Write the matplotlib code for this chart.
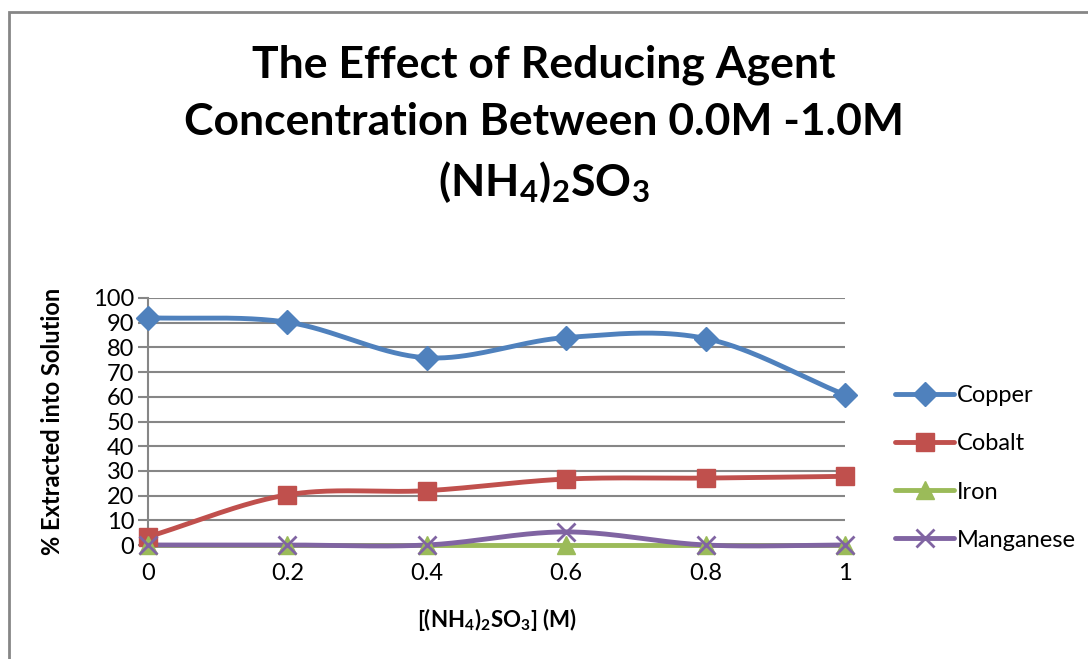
import numpy as np
import matplotlib.pyplot as plt
from matplotlib.patches import Rectangle

# Data
conc = [0, 0.2, 0.4, 0.6, 0.8, 1.0]
conc_labels = ['0', '0.2', '0.4', '0.6', '0.8', '1']
copper = [92.0, 90.2, 75.8, 84.0, 83.6, 60.8]
cobalt = [3.3, 20.3, 22.0, 26.7, 27.1, 27.8]
iron = [0, 0, 0, 0, 0, 0]
manganese = [0, 0, 0, 5.3, 0, 0]

plt.rcParams['font.family'] = ['Lato', 'DejaVu Sans']


def smooth(x, y, n=40):
    # Catmull-Rom curve through the points, like Excel's smoothed line
    x = np.asarray(x, float)
    y = np.asarray(y, float)
    px = np.concatenate([[2 * x[0] - x[1]], x, [2 * x[-1] - x[-2]]])
    py = np.concatenate([[2 * y[0] - y[1]], y, [2 * y[-1] - y[-2]]])
    xs, ys = [], []
    t = np.linspace(0, 1, n)
    for i in range(1, len(px) - 2):
        for p, out in ((px, xs), (py, ys)):
            p0, p1, p2, p3 = p[i - 1], p[i], p[i + 1], p[i + 2]
            out.extend(0.5 * (2 * p1 + (-p0 + p2) * t
                              + (2 * p0 - 5 * p1 + 4 * p2 - p3) * t ** 2
                              + (-p0 + 3 * p1 - 3 * p2 + p3) * t ** 3))
    return xs, ys


fig = plt.figure(figsize=(10.88, 6.59), dpi=100)
ax = fig.add_axes([148 / 1088, 1 - 545 / 659, (845 - 148) / 1088, (545 - 298) / 659])

series = [
    ('Copper', copper, '#4F81BD', 'D', 12),
    ('Cobalt', cobalt, '#C0504D', 's', 13),
    ('Iron', iron, '#9BBB59', '^', 13),
    ('Manganese', manganese, '#8064A2', 'x', 13),
]

for name, vals, col, mk, ms in series:
    sx, sy = smooth(conc, vals)
    ax.plot(sx, sy, color=col, lw=3.5, solid_capstyle='round', zorder=3, clip_on=False)
    ax.plot(conc, vals, linestyle='none', marker=mk, markersize=ms, color=col,
            markeredgewidth=2 if mk == 'x' else 1, zorder=4, clip_on=False)
    ax.plot([], [], color=col, lw=3.5, marker=mk, markersize=ms,
            markeredgewidth=2 if mk == 'x' else 1, solid_capstyle='round', label=name)

ax.set_xlim(0, 1)
ax.set_ylim(0, 100)
ax.set_yticks(range(0, 101, 10))
ax.set_xticks(conc)
ax.set_xticklabels(conc_labels)
ax.grid(axis='y', color='#868686', lw=1.5)
ax.set_axisbelow(True)
for s in ['top', 'right']:
    ax.spines[s].set_visible(False)
ax.spines['left'].set_color('#868686')
ax.spines['left'].set_linewidth(1.5)
ax.spines['bottom'].set_color('#868686')
ax.spines['bottom'].set_linewidth(1.5)
ax.tick_params(axis='y', length=7, width=1.5, color='#868686', labelsize=17, pad=3)
ax.tick_params(axis='x', length=0, labelsize=17, pad=13)

ax.set_ylabel('% Extracted into Solution', fontsize=17, fontweight='bold', labelpad=21)
ax.set_xlabel(r'[$\mathregular{(NH_4)_2SO_3}$] (M)', fontsize=16, fontweight='bold', labelpad=16)

fig.text(0.5, 1 - 65 / 659, 'The Effect of Reducing Agent', ha='center', va='center',
         fontsize=32, fontweight='bold')
fig.text(0.5, 1 - 122 / 659, 'Concentration Between 0.0M -1.0M', ha='center', va='center',
         fontsize=32, fontweight='bold')
fig.text(0.5, 1 - 182 / 659, r'$\mathregular{(NH_4)_2SO_3}$', ha='center', va='center',
         fontsize=32, fontweight='bold')

ax.legend(loc='center left', bbox_to_anchor=(886 / 1088, 1 - 468 / 659),
          bbox_transform=fig.transFigure, frameon=False, fontsize=17,
          handlelength=2.5, labelspacing=1.15, handletextpad=0.1, borderaxespad=0)

# chart border (top and left visible)
fig.patches.append(Rectangle((9 / 1088, -0.05), 1.2, 1 - 12 / 659 + 0.05,
                             transform=fig.transFigure, fill=False,
                             edgecolor='#868686', lw=2))

fig.savefig('out.png', dpi=100)
